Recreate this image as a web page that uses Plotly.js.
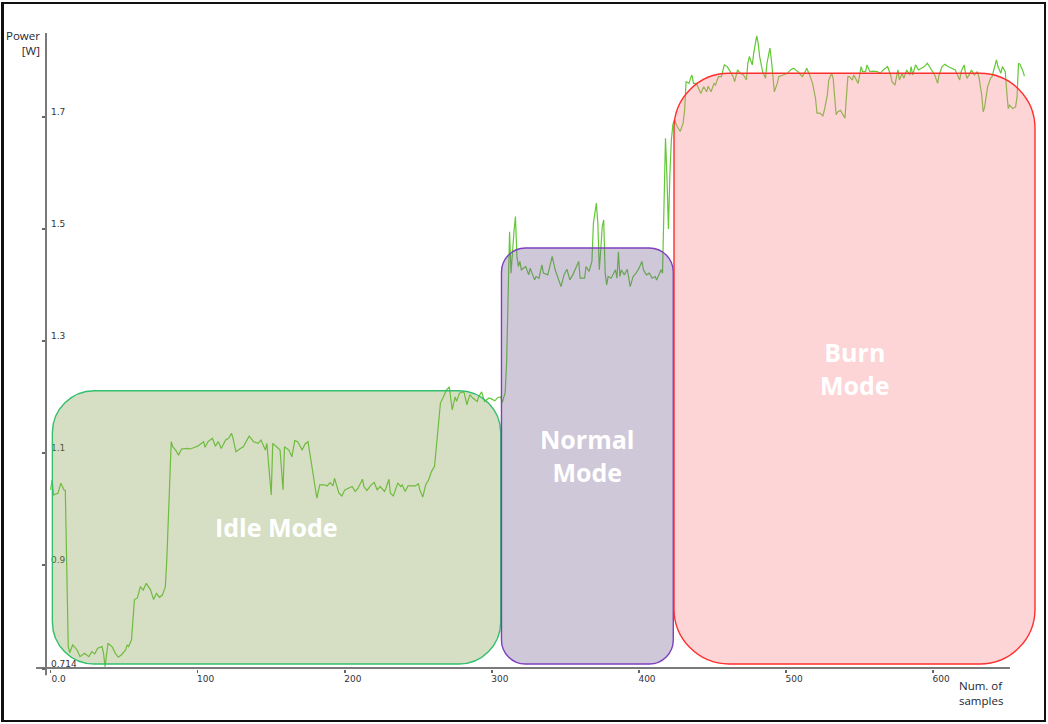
<!DOCTYPE html>
<html>
<head>
<meta charset="utf-8">
<script src="https://cdn.plot.ly/plotly-3.0.1.min.js"></script>
<style>
  html, body { margin: 0; padding: 0; background: #fff; }
  #wrap { position: relative; width: 1048px; height: 724px; }
  #chart { position: absolute; left: 0; top: 0; width: 1048px; height: 724px; }
  #frame { position: absolute; left: 1px; top: 2px; width: 1045px; height: 720px; box-sizing: border-box;
           border: 2px solid #111; border-left-width: 3px; pointer-events: none; }
</style>
</head>
<body>
<div id="wrap"><div id="chart"></div><div id="frame"></div></div>
<script>
// ---- data ----
const samples = [0,1,2,5,7,9,10,12,13,15,18,20,23,26,28,30,32,35,36,37,39,42,44,46,48,51,52,53,55,57,59,61,63,65,68,70,72,74,76,78,79,80,81,82,83,85,87,89,93,95,98,100,104,105,107,110,112,114,116,119,121,123,124,126,129,131,135,138,141,143,146,147,150,151,154,156,158,159,162,164,166,168,171,173,175,178,181,183,186,188,190,192,193,196,198,200,202,205,207,209,212,213,215,218,220,222,224,227,228,230,231,233,236,238,239,241,243,245,248,250,251,253,255,257,259,261,263,265,267,269,271,273,275,276,278,281,283,285,287,290,291,293,295,298,300,302,304,306,307,309,310,311,312,313,314,315,316,317,318,319,320,323,325,326,329,330,332,334,335,338,341,343,345,347,349,351,353,355,359,360,363,364,366,368,369,370,371,372,373,374,375,376,377,378,379,381,383,384,385,386,387,388,390,392,394,396,398,400,402,403,405,407,409,411,412,414,415,416,417,418,419,420,421,422,423,424,426,428,430,431,432,434,435,436,437,439,440,442,444,446,447,449,451,452,454,456,458,460,462,464,465,467,469,471,473,474,475,477,478,479,480,481,482,484,486,487,489,490,491,492,494,495,498,501,503,505,508,511,513,514,516,518,520,521,523,525,526,528,529,531,532,533,534,535,537,538,540,541,542,543,545,546,548,549,551,552,554,555,557,559,562,564,566,569,571,572,574,576,577,579,580,582,584,585,586,588,590,592,594,596,598,600,601,603,604,606,608,610,613,615,616,618,619,621,622,623,625,626,628,630,631,633,634,635,637,639,640,642,643,644,646,647,649,650,651,652,654,656,657,658,659,661,662];
const power = [1.034,1.052,1.025,1.028,1.046,1.034,1.033,0.754,0.743,0.757,0.748,0.736,0.742,0.736,0.745,0.741,0.751,0.754,0.742,0.718,0.760,0.753,0.742,0.735,0.739,0.748,0.757,0.754,0.766,0.838,0.841,0.861,0.855,0.867,0.855,0.838,0.849,0.842,0.846,0.861,0.909,0.986,1.064,1.120,1.111,1.105,1.096,1.107,1.108,1.107,1.110,1.112,1.120,1.110,1.120,1.126,1.112,1.120,1.108,1.123,1.126,1.135,1.126,1.102,1.108,1.111,1.130,1.120,1.117,1.123,1.105,1.117,1.025,1.117,1.110,1.105,1.034,1.111,1.105,1.093,1.122,1.120,1.105,1.116,1.120,1.070,1.019,1.043,1.043,1.041,1.047,1.041,1.055,1.028,1.023,1.034,1.037,1.040,1.031,1.037,1.053,1.040,1.033,1.043,1.047,1.034,1.040,1.031,1.037,1.053,1.028,1.023,1.046,1.040,1.043,1.031,1.041,1.041,1.041,1.045,1.034,1.021,1.043,1.052,1.067,1.076,1.138,1.189,1.200,1.212,1.218,1.177,1.200,1.192,1.207,1.209,1.186,1.204,1.198,1.192,1.200,1.209,1.192,1.198,1.196,1.193,1.199,1.200,1.190,1.207,1.260,1.373,1.495,1.421,1.463,1.495,1.522,1.451,1.433,1.442,1.427,1.433,1.418,1.430,1.409,1.415,1.412,1.436,1.421,1.418,1.451,1.427,1.412,1.397,1.418,1.428,1.409,1.418,1.442,1.412,1.412,1.433,1.424,1.442,1.510,1.534,1.546,1.510,1.427,1.463,1.504,1.516,1.421,1.400,1.415,1.412,1.421,1.427,1.412,1.459,1.415,1.427,1.418,1.428,1.397,1.415,1.421,1.430,1.442,1.427,1.418,1.421,1.412,1.415,1.409,1.421,1.427,1.421,1.530,1.662,1.593,1.500,1.599,1.659,1.686,1.695,1.683,1.674,1.689,1.712,1.763,1.760,1.769,1.775,1.760,1.760,1.754,1.742,1.754,1.745,1.755,1.745,1.760,1.757,1.772,1.772,1.793,1.790,1.781,1.772,1.763,1.784,1.778,1.775,1.766,1.796,1.808,1.793,1.814,1.832,1.845,1.832,1.808,1.781,1.769,1.796,1.823,1.802,1.766,1.745,1.760,1.772,1.775,1.778,1.784,1.787,1.781,1.772,1.781,1.787,1.775,1.760,1.733,1.707,1.707,1.702,1.712,1.739,1.766,1.778,1.769,1.736,1.704,1.709,1.712,1.707,1.698,1.736,1.772,1.772,1.766,1.775,1.766,1.760,1.790,1.781,1.781,1.793,1.781,1.782,1.781,1.778,1.784,1.790,1.775,1.763,1.757,1.784,1.766,1.778,1.769,1.784,1.775,1.790,1.775,1.793,1.784,1.787,1.790,1.796,1.787,1.778,1.775,1.760,1.775,1.790,1.794,1.790,1.787,1.784,1.778,1.766,1.781,1.793,1.778,1.769,1.778,1.784,1.775,1.781,1.772,1.739,1.709,1.718,1.754,1.769,1.772,1.790,1.802,1.790,1.778,1.790,1.781,1.745,1.715,1.721,1.715,1.718,1.736,1.796,1.794,1.782,1.773];

const xTickVals = [0,100,200,300,400,500,600];
const xTickText = ['0.0','100','200','300','400','500','600'];
const yTickVals = [0.714,0.9,1.1,1.3,1.5,1.7];
const yTickText = ['0.714','0.9','1.1','1.3','1.5','1.7'];

// operating modes: sample span and top of the highlighted region
const modeNames = ['Idle<br>Mode','Normal<br>Mode','Burn<br>Mode'];
const modeLabelOneLine = [true,false,false];
const modeStart = [1.2,306.5,423.8];
const modeEnd = [306.0,423.3,669.2];
const modeTop = [1.211,1.466,1.778];
const modeBottom = 0.723;
const modeFill = ['rgba(138,164,86,0.35)','rgba(118,98,144,0.35)','rgba(249,135,138,0.35)'];
const modeStroke = ['#33bf6c','#7d3fbf','#ff2e2e'];
const modeRadius = [42,24,55];

// ---- layout geometry ----
const W = 1048, H = 724;
const M = {l:46, r:8, t:33, b:55};
const xRange = [-3.13, 672.6];
const yRange = [0.714, 1.85];
const plotW = W - M.l - M.r, plotH = H - M.t - M.b;
const dxPerPx = (xRange[1]-xRange[0])/plotW;
const dyPerPx = (yRange[1]-yRange[0])/plotH;

function roundRectPath(x0,x1,y0,y1,rpx){
  const rx = rpx*dxPerPx, ry = rpx*dyPerPx, c = 0.5523;
  const p = [];
  p.push(`M${x0+rx},${y1}`);
  p.push(`L${x1-rx},${y1}`);
  p.push(`C${x1-rx+c*rx},${y1} ${x1},${y1-ry+c*ry} ${x1},${y1-ry}`);
  p.push(`L${x1},${y0+ry}`);
  p.push(`C${x1},${y0+ry-c*ry} ${x1-rx+c*rx},${y0} ${x1-rx},${y0}`);
  p.push(`L${x0+rx},${y0}`);
  p.push(`C${x0+rx-c*rx},${y0} ${x0},${y0+ry-c*ry} ${x0},${y0+ry}`);
  p.push(`L${x0},${y1-ry}`);
  p.push(`C${x0},${y1-ry+c*ry} ${x0+rx-c*rx},${y1} ${x0+rx},${y1}Z`);
  return p.join(' ');
}

const shapes = [];
// axis lines
shapes.push({type:'line', layer:'below', xref:'paper', yref:'paper', x0:0, x1:0, y0:-0.01, y1:1,
             line:{color:'#7a7a7a', width:2}});
shapes.push({type:'line', layer:'below', xref:'paper', yref:'paper', x0:-0.01, x1:(1010-M.l)/plotW, y0:0.0015, y1:0.0015,
             line:{color:'#7a7a7a', width:2}});
for (let i=0;i<modeNames.length;i++){
  shapes.push({type:'path', layer:'above', xref:'x', yref:'y',
    path: roundRectPath(modeStart[i], modeEnd[i], modeBottom, modeTop[i], modeRadius[i]),
    fillcolor: modeFill[i], line:{color:modeStroke[i], width:1.4}});
}

const annotations = [];
for (let i=0;i<modeNames.length;i++){
  annotations.push({xref:'x', yref:'y', x:(modeStart[i]+modeEnd[i])/2, y:(modeBottom+modeTop[i])/2,
    text: modeLabelOneLine[i] ? modeNames[i].replace('<br>',' ') : modeNames[i],
    showarrow:false, align:'center', xanchor:'center', yanchor:'middle',
    font:{family:'Open Sans, Noto Sans, sans-serif', size:25, color:'#ffffff', weight:'bold'}});
}
annotations.push({xref:'paper', yref:'paper', x:(42-M.l)/plotW, y:(H-M.b-26)/plotH, xanchor:'right', yanchor:'top',
  text:'Power<br>[W]', align:'right', showarrow:false,
  font:{family:'Open Sans, Noto Sans, sans-serif', size:11.5, color:'#1c2633'}});
annotations.push({xref:'paper', yref:'paper', x:(957-M.l)/plotW, y:(H-M.b-676)/plotH, xanchor:'left', yanchor:'top',
  text:'Num. of<br>samples', align:'left', showarrow:false,
  font:{family:'Open Sans, Noto Sans, sans-serif', size:11.5, color:'#1c2633'}});

const trace = {x:samples, y:power, type:'scatter', mode:'lines',
  line:{color:'rgb(98,200,52)', width:1.2}, hoverinfo:'skip'};

const layout = {
  width:W, height:H, margin:M, showlegend:false,
  paper_bgcolor:'rgba(0,0,0,0)', plot_bgcolor:'#ffffff',
  xaxis:{range:xRange, tickvals:xTickVals, ticktext:xTickText, ticks:'outside', ticklen:3, tickwidth:1.5,
         tickcolor:'#666', showgrid:false, zeroline:false, showline:false, ticklabelshift:8,
         ticklabelstandoff:-2, ticklabeloverflow:'allow',
         tickfont:{family:'DejaVu Sans, sans-serif', size:9, color:'#333'}},
  yaxis:{range:yRange, tickvals:yTickVals, ticktext:yTickText, ticks:'outside', ticklen:3, tickwidth:1.5,
         tickcolor:'#666', showgrid:false, zeroline:false, showline:false,
         ticklabelposition:'inside', ticklabelshift:-5, ticklabelstandoff:2, ticklabeloverflow:'allow',
         tickfont:{family:'DejaVu Sans, sans-serif', size:9, color:'#333'}},
  shapes:shapes, annotations:annotations
};

Plotly.newPlot('chart', [trace], layout, {displayModeBar:false, staticPlot:true});
</script>
</body>
</html>
